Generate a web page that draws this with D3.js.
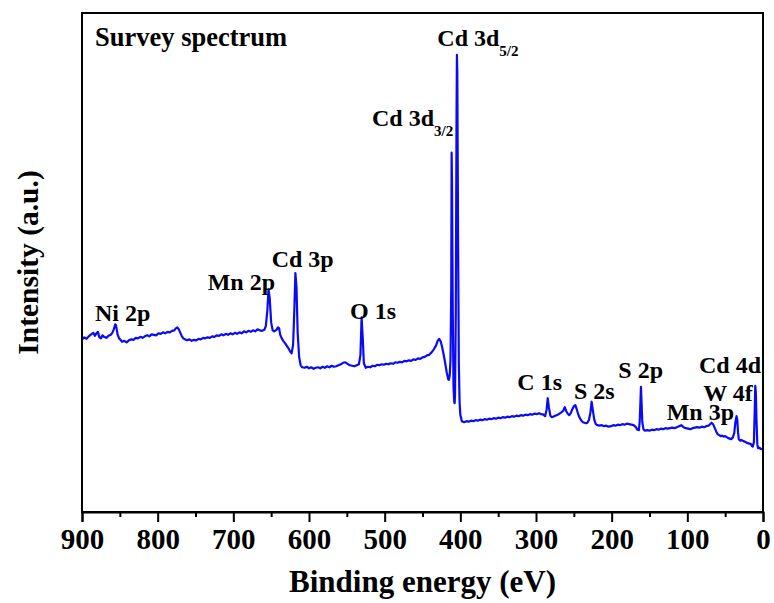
<!DOCTYPE html>
<html>
<head>
<meta charset="utf-8">
<script src="https://cdn.jsdelivr.net/npm/d3@7"></script>
<style>
  html, body { margin: 0; padding: 0; background: #fff; }
  svg { display: block; }
  text { font-family: "Liberation Serif", "Times New Roman", serif; font-weight: bold; fill: #000; }
</style>
</head>
<body>
<svg id="chart" width="774" height="603"></svg>
<script>
// ---- Data (binding energy in eV, intensity in a.u.) ----
const bindingEnergy = [
  900,897,894,891,888,885,883,881,879,877,875,873,871,868,865,862,860,858,856,855,853,851,849,847,844,841,838,835,832,829,826,823,820,817,814,811,808,805,802,799,796,793,790,787,784,781,778,776,774,772,770,768,766,764,761,758,755,752,749,746,743,740,737,734,731,728,725,722,719,716,713,710,707,704,701,698,695,692,689,686,683,680,677,674,671,668,665,662,659,657,655,653.5,652,650,648,646,643,641,639.5,638,636,634,631,628,625,623,621,619.5,618,616.5,615,613,611,609,606,603,600,597,594,591,588,585,582,579,576,573,570,567,564,561,558,555,552,549,546,543,540,537,534,532,530.5,529,527.5,525,522,519,516,513,510,507,504,501,498,495,492,489,486,483,480,477,474,471,468,465,462,459,456,453,450,447,444,441,438,435,432,430,428,426,424,422,420,418,416,415,414,413,412,411.5,411,410,409,408,407.5,407,406,405,404.5,404,403,402,401,400,398,395,392,389,386,383,380,377,374,371,368,365,362,359,356,353,350,347,344,341,338,335,332,329,326,323,320,317,314,311,308,305,302,299,296,293,290,288,286,284.5,283,281,279,276,273,270,267,264,262,260,258,256,254,252,250,248,246,244,242,240,238,236,234,232,230,228,226.5,225,223,221,219,216,213,210,207,204,201,198,195,192,189,186,183,180,177,174,171,168,166,164,163,162,161.3,160.5,159.5,158,156,153,150,147,144,141,138,135,132,129,126,123,120,117,114,111,108,105,102,99,96,93,90,87,84,81,78,75,72,70,68,66,64,62,60,58,56,54,52,50,48,46,44,42,40,38,36.5,35,34,33,32,30,28,26,24,22,20,18,16,14.5,13.5,12,11,10.2,9.5,8.5,7.5,6.5,5,3.5,2,1.5
];
const intensity = [
  34.6,35.0,34.7,35.2,35.6,35.9,35.3,35.8,36.1,35.0,34.8,35.4,35.1,34.9,35.3,35.5,35.9,36.6,37.6,37.4,35.6,34.8,34.5,34.1,34.3,34.0,34.4,34.6,34.5,34.9,34.8,35.1,34.9,35.2,35.4,35.2,35.6,35.5,35.4,35.8,35.7,36.0,35.8,36.1,36.0,36.3,36.4,36.8,37.0,36.6,35.9,35.2,34.8,34.6,34.4,34.6,34.3,34.5,34.4,34.7,34.6,34.9,34.8,35.0,34.9,35.2,35.1,35.4,35.3,35.6,35.4,35.7,35.5,35.8,35.6,35.9,35.7,36.0,35.8,36.2,36.0,36.3,36.1,36.4,36.2,36.6,36.4,36.3,36.5,37.3,40.5,44.6,43.0,38.0,36.4,36.2,36.5,37.0,36.8,35.5,34.8,34.3,33.7,33.0,32.2,31.8,33.5,40.0,47.9,45.0,36.0,31.0,29.4,29.0,28.9,29.1,28.8,29.0,28.7,28.9,29.0,28.8,29.1,28.9,29.2,29.0,29.3,29.1,29.2,29.4,29.6,29.9,30.0,29.7,29.4,29.3,29.2,29.4,29.6,31.5,39.0,35.0,29.8,28.9,29.1,29.0,29.3,29.2,29.5,29.4,29.6,29.5,29.7,29.6,29.8,29.7,30.0,29.9,30.1,30.0,30.3,30.2,30.4,30.3,30.6,30.5,30.8,30.7,31.0,31.1,31.4,31.5,32.0,32.6,33.4,34.3,34.7,34.2,33.0,31.5,29.8,28.0,26.6,26.5,27.5,30.5,45.0,72.0,66.0,40.0,25.0,22.0,21.8,23.5,40.0,80.0,91.6,88.0,55.0,30.0,22.0,19.5,18.2,18.0,18.2,18.1,18.3,18.2,18.4,18.3,18.5,18.4,18.6,18.5,18.7,18.6,18.8,18.7,18.9,18.8,19.0,18.9,19.1,19.0,19.2,19.1,19.3,19.2,19.4,19.3,19.5,19.4,19.6,19.5,19.7,19.6,19.8,19.6,19.5,19.2,20.5,22.8,21.0,19.3,19.0,19.2,19.4,19.6,19.9,20.3,21.0,20.2,19.7,19.4,19.8,20.6,21.2,21.4,20.5,19.5,18.8,18.3,18.0,17.9,17.8,17.9,18.5,20.0,22.1,20.5,18.5,17.6,17.4,17.3,17.4,17.2,17.3,17.1,17.2,17.4,17.3,17.5,17.4,17.6,17.5,17.7,17.6,17.5,17.4,17.0,16.5,16.4,18.0,22.0,25.1,22.0,18.0,16.6,16.3,16.4,16.3,16.5,16.4,16.6,16.5,16.7,16.6,16.8,16.7,16.8,16.9,16.8,17.0,17.2,17.4,17.0,16.8,16.7,16.6,16.8,16.9,17.0,16.9,17.1,17.0,17.2,17.3,17.6,17.9,17.6,16.9,16.2,15.6,15.4,15.2,15.3,15.1,15.2,15.0,14.8,14.7,14.6,14.9,15.8,18.0,19.2,18.5,16.0,14.6,14.3,14.4,14.2,14.1,13.9,13.8,13.7,13.6,13.2,13.1,14.0,20.0,25.3,24.0,18.0,13.5,12.8,12.9,12.7,12.6,12.8
];
const xTicksMajor = [900,800,700,600,500,400,300,200,100,0];
const xTicksMinor = [850,750,650,550,450,350,250,150,50];

// Peak annotations: main text, subscript, anchor energy (left edge) and baseline intensity
const labelText = ["Ni 2p","Mn 2p","Cd 3p","O 1s","Cd 3d","Cd 3d","C 1s","S 2s","S 2p","Cd 4d","W 4f","Mn 3p"];
const labelSub  = ["","","","","3/2","5/2","","","","","",""];
const labelEV   = [882.8,733.9,649.3,545.8,516.7,430.4,324.7,249.8,191.2,84.6,78.9,127.3];
const labelI    = [38.3,44.4,49.0,38.6,77.4,93.3,24.4,22.6,26.8,27.9,22.2,18.4];
const titleText = "Survey spectrum";
const titleEV = 882.8, titleI = 93.3;

// ---- Layout ----
const svg = d3.select("#chart");
const margin = {left: 82, right: 11, top: 13, bottom: 91};
const W = 774, H = 603;
const x = d3.scaleLinear().domain([900, 0]).range([margin.left, W - margin.right]);
const y = d3.scaleLinear().domain([0, 100]).range([H - margin.bottom, margin.top]);

const data = bindingEnergy.map((e, i) => [e, intensity[i]]);

// Spectrum line
svg.append("path")
  .datum(data)
  .attr("fill", "none")
  .attr("stroke", "#0a0af5")
  .attr("stroke-width", 2.2)
  .attr("stroke-linejoin", "round")
  .attr("d", d3.line().x(d => x(d[0])).y(d => y(d[1])));

// Frame
svg.append("rect")
  .attr("x", x(900)).attr("y", y(100))
  .attr("width", x(0) - x(900)).attr("height", y(0) - y(100))
  .attr("fill", "none").attr("stroke", "#000").attr("stroke-width", 2);

// Bottom axis
const xAxis = d3.axisBottom(x).tickValues(xTicksMajor).tickFormat(d3.format("d")).tickSize(10).tickPadding(6);
const gx = svg.append("g").attr("transform", `translate(0,${y(0)})`).call(xAxis);
gx.select(".domain").attr("stroke-width", 2);
gx.selectAll(".tick line").attr("stroke-width", 2);
gx.selectAll(".tick text").attr("font-size", 29).style("font-family", '"Liberation Serif", serif').style("font-weight", "bold");
const xAxisMinor = d3.axisBottom(x).tickValues(xTicksMinor).tickFormat("").tickSize(5);
const gxm = svg.append("g").attr("transform", `translate(0,${y(0)})`).call(xAxisMinor);
gxm.select(".domain").remove();
gxm.selectAll(".tick line").attr("stroke-width", 2);

// Axis titles
svg.append("text")
  .attr("x", (x(900) + x(0)) / 2).attr("y", 592)
  .attr("text-anchor", "middle").attr("font-size", 31)
  .text("Binding energy (eV)");
svg.append("text")
  .attr("transform", `translate(38,${(y(0) + y(100)) / 2}) rotate(-90)`)
  .attr("text-anchor", "middle").attr("font-size", 29.5)
  .text("Intensity (a.u.)");

// Survey title
svg.append("text")
  .attr("x", x(titleEV)).attr("y", y(titleI))
  .attr("font-size", 26.5)
  .text(titleText);

// Peak labels
labelText.forEach((t, i) => {
  const tx = svg.append("text")
    .attr("x", x(labelEV[i])).attr("y", y(labelI[i]))
    .attr("font-size", 24)
    .text(t);
  if (labelSub[i]) {
    tx.append("tspan").attr("font-size", 15).attr("dy", 10).text(labelSub[i]);
  }
});
</script>
</body>
</html>
